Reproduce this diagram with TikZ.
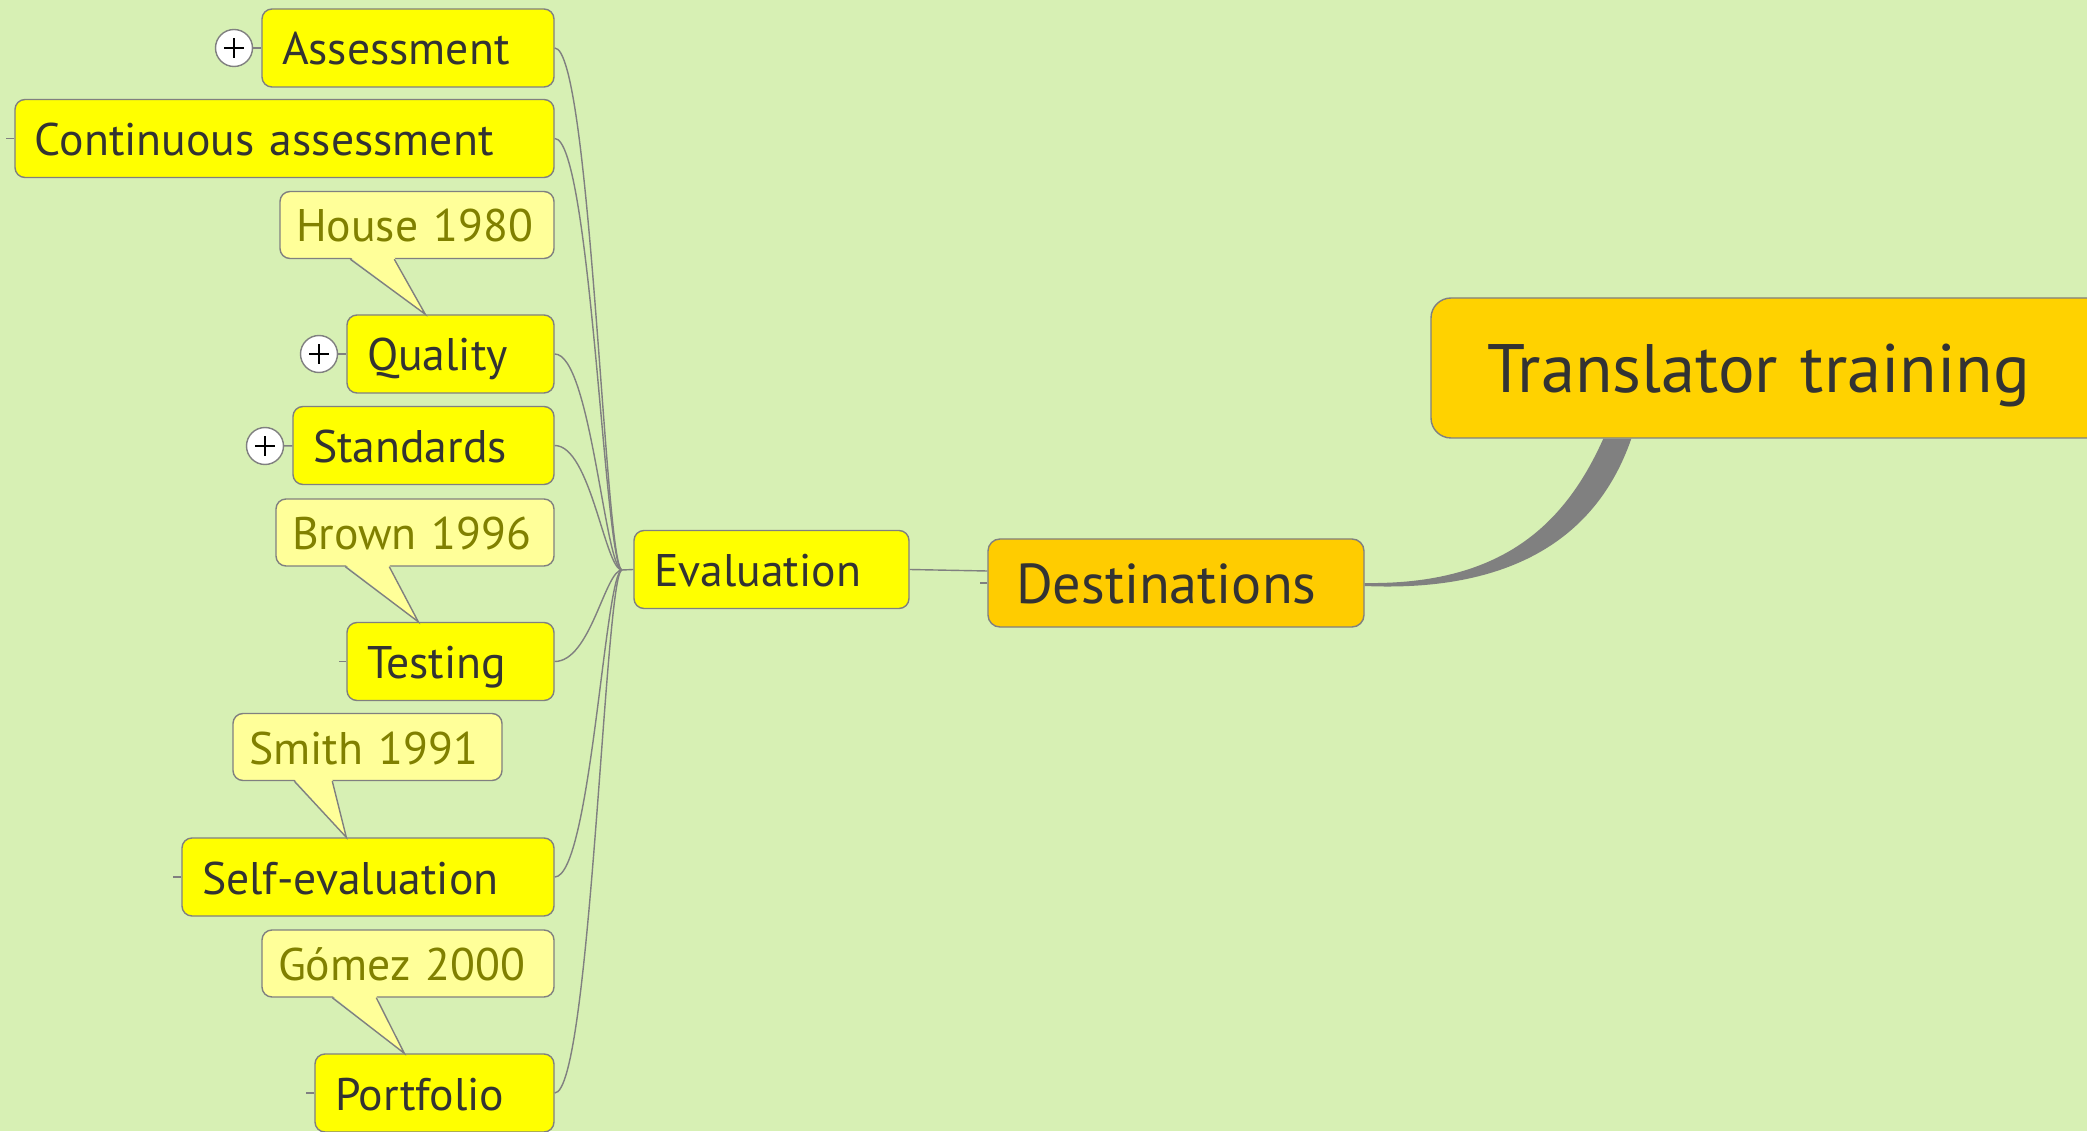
\documentclass[tikz,border=0pt]{standalone}
\usepackage{fontspec}
\setmainfont{PT Sans}
\usepackage{tikz}
\usetikzlibrary{shapes}
\usetikzlibrary{positioning}
\definecolor{bgcol}{RGB}{215,240,180}
\definecolor{topicfill}{RGB}{255,255,0}
\definecolor{mainfill}{RGB}{255,204,0}
\definecolor{rootfill}{RGB}{255,210,0}
\definecolor{notefill}{RGB}{255,255,153}
\definecolor{notetext}{RGB}{128,128,0}
\definecolor{boxtext}{RGB}{51,51,51}
\definecolor{linecol}{RGB}{128,128,128}
\tikzset{
    topicnode/.style = {rectangle, rounded corners=0.1cm, draw=linecol, line width=0.4pt, fill=topicfill, align=left, inner xsep=0.2cm, minimum height=0.78cm, text height=0.34cm, text depth=0cm, font=\fontsize{13}{15}\selectfont, text=boxtext},
    notenode/.style = {rectangle, rounded corners=0.1cm, draw=linecol, line width=0.4pt, fill=notefill, align=left, inner xsep=0.16cm, minimum height=0.67cm, text height=0.34cm, text depth=0cm, font=\fontsize{13}{15}\selectfont, text=notetext},
    mainnode/.style = {rectangle, rounded corners=0.12cm, draw=linecol, line width=0.4pt, fill=mainfill, align=left, inner xsep=0.28cm, minimum height=0.88cm, text height=0.42cm, text depth=0cm, font=\fontsize{16}{19}\selectfont, text=boxtext},
    rootnode/.style = {rectangle, rounded corners=0.2cm, draw=linecol, line width=0.4pt, fill=rootfill, align=left, inner xsep=0.56cm, minimum height=1.40cm, text height=0.5cm, text depth=0cm, font=\fontsize{19.5}{23}\selectfont, text=boxtext},
    plusnode/.style = {circle, draw=linecol, line width=0.4pt, fill=white, minimum size=0.37cm, inner sep=0pt,
        path picture={\draw[black, line width=0.35pt] ([xshift=-0.1cm]path picture bounding box.center) -- ++(0.2,0);
                      \draw[black, line width=0.35pt] ([yshift=-0.1cm]path picture bounding box.center) -- ++(0,0.2);}},
    edgel/.style = {-, line width=0.4pt, linecol},
    edget/.style = {linecol}, % trunk
}

\begin{document}
\begin{tikzpicture}
\path[use as bounding box, fill=bgcol] (0,0) rectangle (20.87,11.31);
%
\node[rootnode, text width=5.67cm] at (17.705, 7.63) (trans) {Translator training};
\node[mainnode, text width=3.20cm] at (11.76, 5.48) (dest) {Destinations};
\node[topicnode, text width=2.35cm] at (7.715, 5.615) (eval) {Evaluation};
\coordinate (jn) at (6.22, 5.61);
%
\node[topicnode, text width=2.52cm] at (4.08, 10.83) (assess) {Assessment};
\node[topicnode, text width=4.99cm] at (2.845, 9.925) (cont) {Continuous assessment};
\node[notenode, text width=2.42cm] at (4.17, 9.06) (house) {House 1980};
\node[topicnode, text width=1.67cm] at (4.505, 7.77) (qual) {Quality};
\node[topicnode, text width=2.21cm] at (4.235, 6.855) (stand) {Standards};
\node[notenode, text width=2.46cm] at (4.15, 5.985) (brown) {Brown 1996};
\node[topicnode, text width=1.67cm] at (4.505, 4.695) (test) {Testing};
\node[notenode, text width=2.37cm] at (3.675, 3.84) (smith) {Smith 1991};
\node[topicnode, text width=3.32cm] at (3.68, 2.54) (self) {Self-evaluation};
\node[notenode, text width=2.60cm] at (4.08, 1.675) (gomez) {Gómez 2000};
\node[topicnode, text width=1.99cm] at (4.345, 0.38) (port) {Portfolio};
%
\node[plusnode] at (2.34, 10.83) (pa) {};
\node[plusnode] at (3.19, 7.77) (pq) {};
\node[plusnode] at (2.65, 6.85) (ps) {};
\draw[edgel] (pa) -- (assess);
\draw[edgel] (pq) -- (qual);
\draw[edgel] (ps) -- (stand);
%
\draw[edgel] (assess.east) .. controls +(0.36,0) and +(-0.17,0) .. (jn);
\draw[edgel] (cont.east) .. controls +(0.36,0) and +(-0.17,0) .. (jn);
\draw[edgel] (qual.east) .. controls +(0.36,0) and +(-0.17,0) .. (jn);
\draw[edgel] (stand.east) .. controls +(0.36,0) and +(-0.17,0) .. (jn);
\draw[edgel] (test.east) .. controls +(0.36,0) and +(-0.17,0) .. (jn);
\draw[edgel] (self.east) .. controls +(0.36,0) and +(-0.17,0) .. (jn);
\draw[edgel] (port.east) .. controls +(0.36,0) and +(-0.17,0) .. (jn);
\draw[edgel] (jn) -- (eval.west);
\draw[edgel] (eval.east) -- ([yshift=0.12cm]dest.west);
%
\draw[edgel] (cont.west) -- ++(-0.08,0);
\draw[edgel] (test.west) -- ++(-0.07,0);
\draw[edgel] (self.west) -- ++(-0.08,0);
\draw[edgel] (port.west) -- ++(-0.08,0);
\draw[edgel] (dest.west) -- ++(-0.07,0);
%
\fill[edget] (dest.east) .. controls +(1.36,-0.02) and +(-0.39,-0.87) .. ([xshift=1.73cm]trans.south west)
    -- ([xshift=2.01cm]trans.south west) .. controls +(-0.37,-1.07) and +(1.36,-0.06) .. ([yshift=-0.03cm]dest.east) -- cycle;
%
\fill[notefill] ([xshift=0.71cm,yshift=0.02cm]house.south west) -- ([xshift=0.79cm]qual.north west) -- ([xshift=1.15cm,yshift=0.02cm]house.south west) -- cycle;
\draw[edgel] ([xshift=0.71cm]house.south west) -- ([xshift=0.79cm]qual.north west) -- ([xshift=1.15cm]house.south west);
\fill[notefill] ([xshift=0.70cm,yshift=0.02cm]brown.south west) -- ([xshift=0.72cm]test.north west) -- ([xshift=1.14cm,yshift=0.02cm]brown.south west) -- cycle;
\draw[edgel] ([xshift=0.70cm]brown.south west) -- ([xshift=0.72cm]test.north west) -- ([xshift=1.14cm]brown.south west);
\fill[notefill] ([xshift=0.62cm,yshift=0.02cm]smith.south west) -- ([xshift=1.65cm]self.north west) -- ([xshift=1.00cm,yshift=0.02cm]smith.south west) -- cycle;
\draw[edgel] ([xshift=0.62cm]smith.south west) -- ([xshift=1.65cm]self.north west) -- ([xshift=1.00cm]smith.south west);
\fill[notefill] ([xshift=0.71cm,yshift=0.02cm]gomez.south west) -- ([xshift=0.90cm]port.north west) -- ([xshift=1.15cm,yshift=0.02cm]gomez.south west) -- cycle;
\draw[edgel] ([xshift=0.71cm]gomez.south west) -- ([xshift=0.90cm]port.north west) -- ([xshift=1.15cm]gomez.south west);
\end{tikzpicture}
\end{document}
